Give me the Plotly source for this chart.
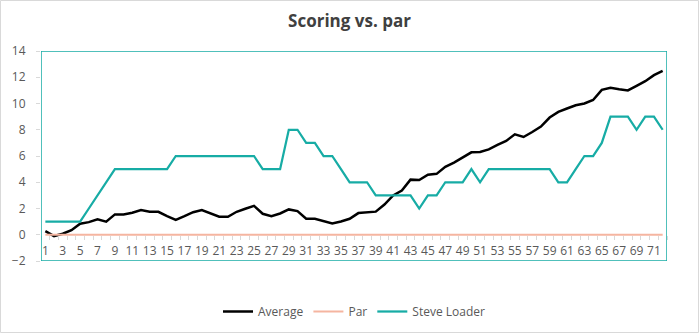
import plotly.graph_objects as go

holes = list(range(1, 73))
average = [0.27, -0.1, 0.08, 0.35, 0.84, 0.96, 1.17, 1.0, 1.55, 1.55,
           1.68, 1.88, 1.75, 1.75, 1.42, 1.14, 1.42, 1.72, 1.88, 1.62,
           1.37, 1.37, 1.75, 1.98, 2.2, 1.6, 1.42, 1.62, 1.93, 1.8,
           1.22, 1.22, 1.01, 0.86, 1.01, 1.22, 1.65, 1.69, 1.76, 2.3,
           3.0, 3.37, 4.2, 4.17, 4.58, 4.64, 5.18, 5.5, 5.9, 6.28,
           6.3, 6.5, 6.84, 7.15, 7.65, 7.45, 7.83, 8.24, 8.93, 9.36,
           9.62, 9.87, 10.0, 10.27, 11.04, 11.2, 11.09, 11.0, 11.35, 11.7,
           12.16, 12.49]
par = [0] * 72
steve = [1, 1, 1, 1, 1, 2, 3, 4, 5, 5,
         5, 5, 5, 5, 5, 6, 6, 6, 6, 6,
         6, 6, 6, 6, 6, 5, 5, 5, 8, 8,
         7, 7, 6, 6, 5, 4, 4, 4, 3, 3,
         3, 3, 3, 2, 3, 3, 4, 4, 4, 5,
         4, 5, 5, 5, 5, 5, 5, 5, 5, 4,
         4, 5, 6, 6, 7, 9, 9, 9, 8, 9,
         9, 8]

y_min, y_max = -2, 14
x_min, x_max = 0.5, 72.5

TEAL = "#17ACA5"
FONT = "Open Sans"

fig = go.Figure()
fig.add_trace(go.Scatter(x=holes, y=average, name="Average", mode="lines",
                         line=dict(color="#000000", width=2.5)))
fig.add_trace(go.Scatter(x=holes, y=par, name="Par", mode="lines",
                         line=dict(color="#F5B5A0", width=2)))
fig.add_trace(go.Scatter(x=holes, y=steve, name="Steve Loader", mode="lines",
                         line=dict(color=TEAL, width=2.25)))

L, R, T, B = 41, 32, 51, 72
W, H = 699, 333
pw, ph = W - L - R, H - T - B

fig.update_layout(
    width=W, height=H,
    margin=dict(l=L, r=R, t=T, b=B, pad=0, autoexpand=False),
    paper_bgcolor="white", plot_bgcolor="white",
    font=dict(family=FONT, size=12, color="#595959"),
    title=dict(text="<b>Scoring vs. par</b>", x=0.5, xanchor="center",
               y=1 - 21 / H, yanchor="middle",
               font=dict(size=17, color="#404040", family=FONT)),
    showlegend=True,
    legend=dict(orientation="h", x=0.5, xanchor="center",
                y=(T + ph - 311.5) / ph, yref="paper", yanchor="middle",
                font=dict(size=12, color="#595959"), itemwidth=30,
                bgcolor="rgba(0,0,0,0)"),
    xaxis=dict(range=[x_min, x_max], tickmode="linear", tick0=1, dtick=2,
               ticks="", showgrid=False, zeroline=False, showline=False,
               anchor="free", position=(0 - y_min) / (y_max - y_min),
               automargin=False, ticklabelstandoff=7,
               tickfont=dict(size=12, color="#595959"),
               minor=dict(ticks="outside", tick0=0.5, dtick=1, ticklen=4,
                          tickcolor="#D9D9D9", showgrid=False)),
    yaxis=dict(range=[y_min, y_max], autorange=False, dtick=2, showgrid=False,
               zeroline=False, automargin=False, showline=False,
               ticks="outside", ticklen=4, tickcolor="#D9D9D9", tickwidth=1,
               ticklabelstandoff=8,
               tickfont=dict(size=12, color="#595959")),
    shapes=[
        dict(type="rect", xref="x", yref="y", x0=x_min, x1=x_max,
             y0=y_min, y1=y_max,
             line=dict(color=TEAL, width=1.5), layer="above"),
        dict(type="rect", xref="paper", yref="paper",
             x0=(0.5 - L) / pw, x1=(W - 0.5 - L) / pw,
             y0=(T + ph - (H - 0.5)) / ph, y1=(T + ph - 0.5) / ph,
             line=dict(color="#D9D9D9", width=1)),
    ],
)

fig.write_html("out.html")
